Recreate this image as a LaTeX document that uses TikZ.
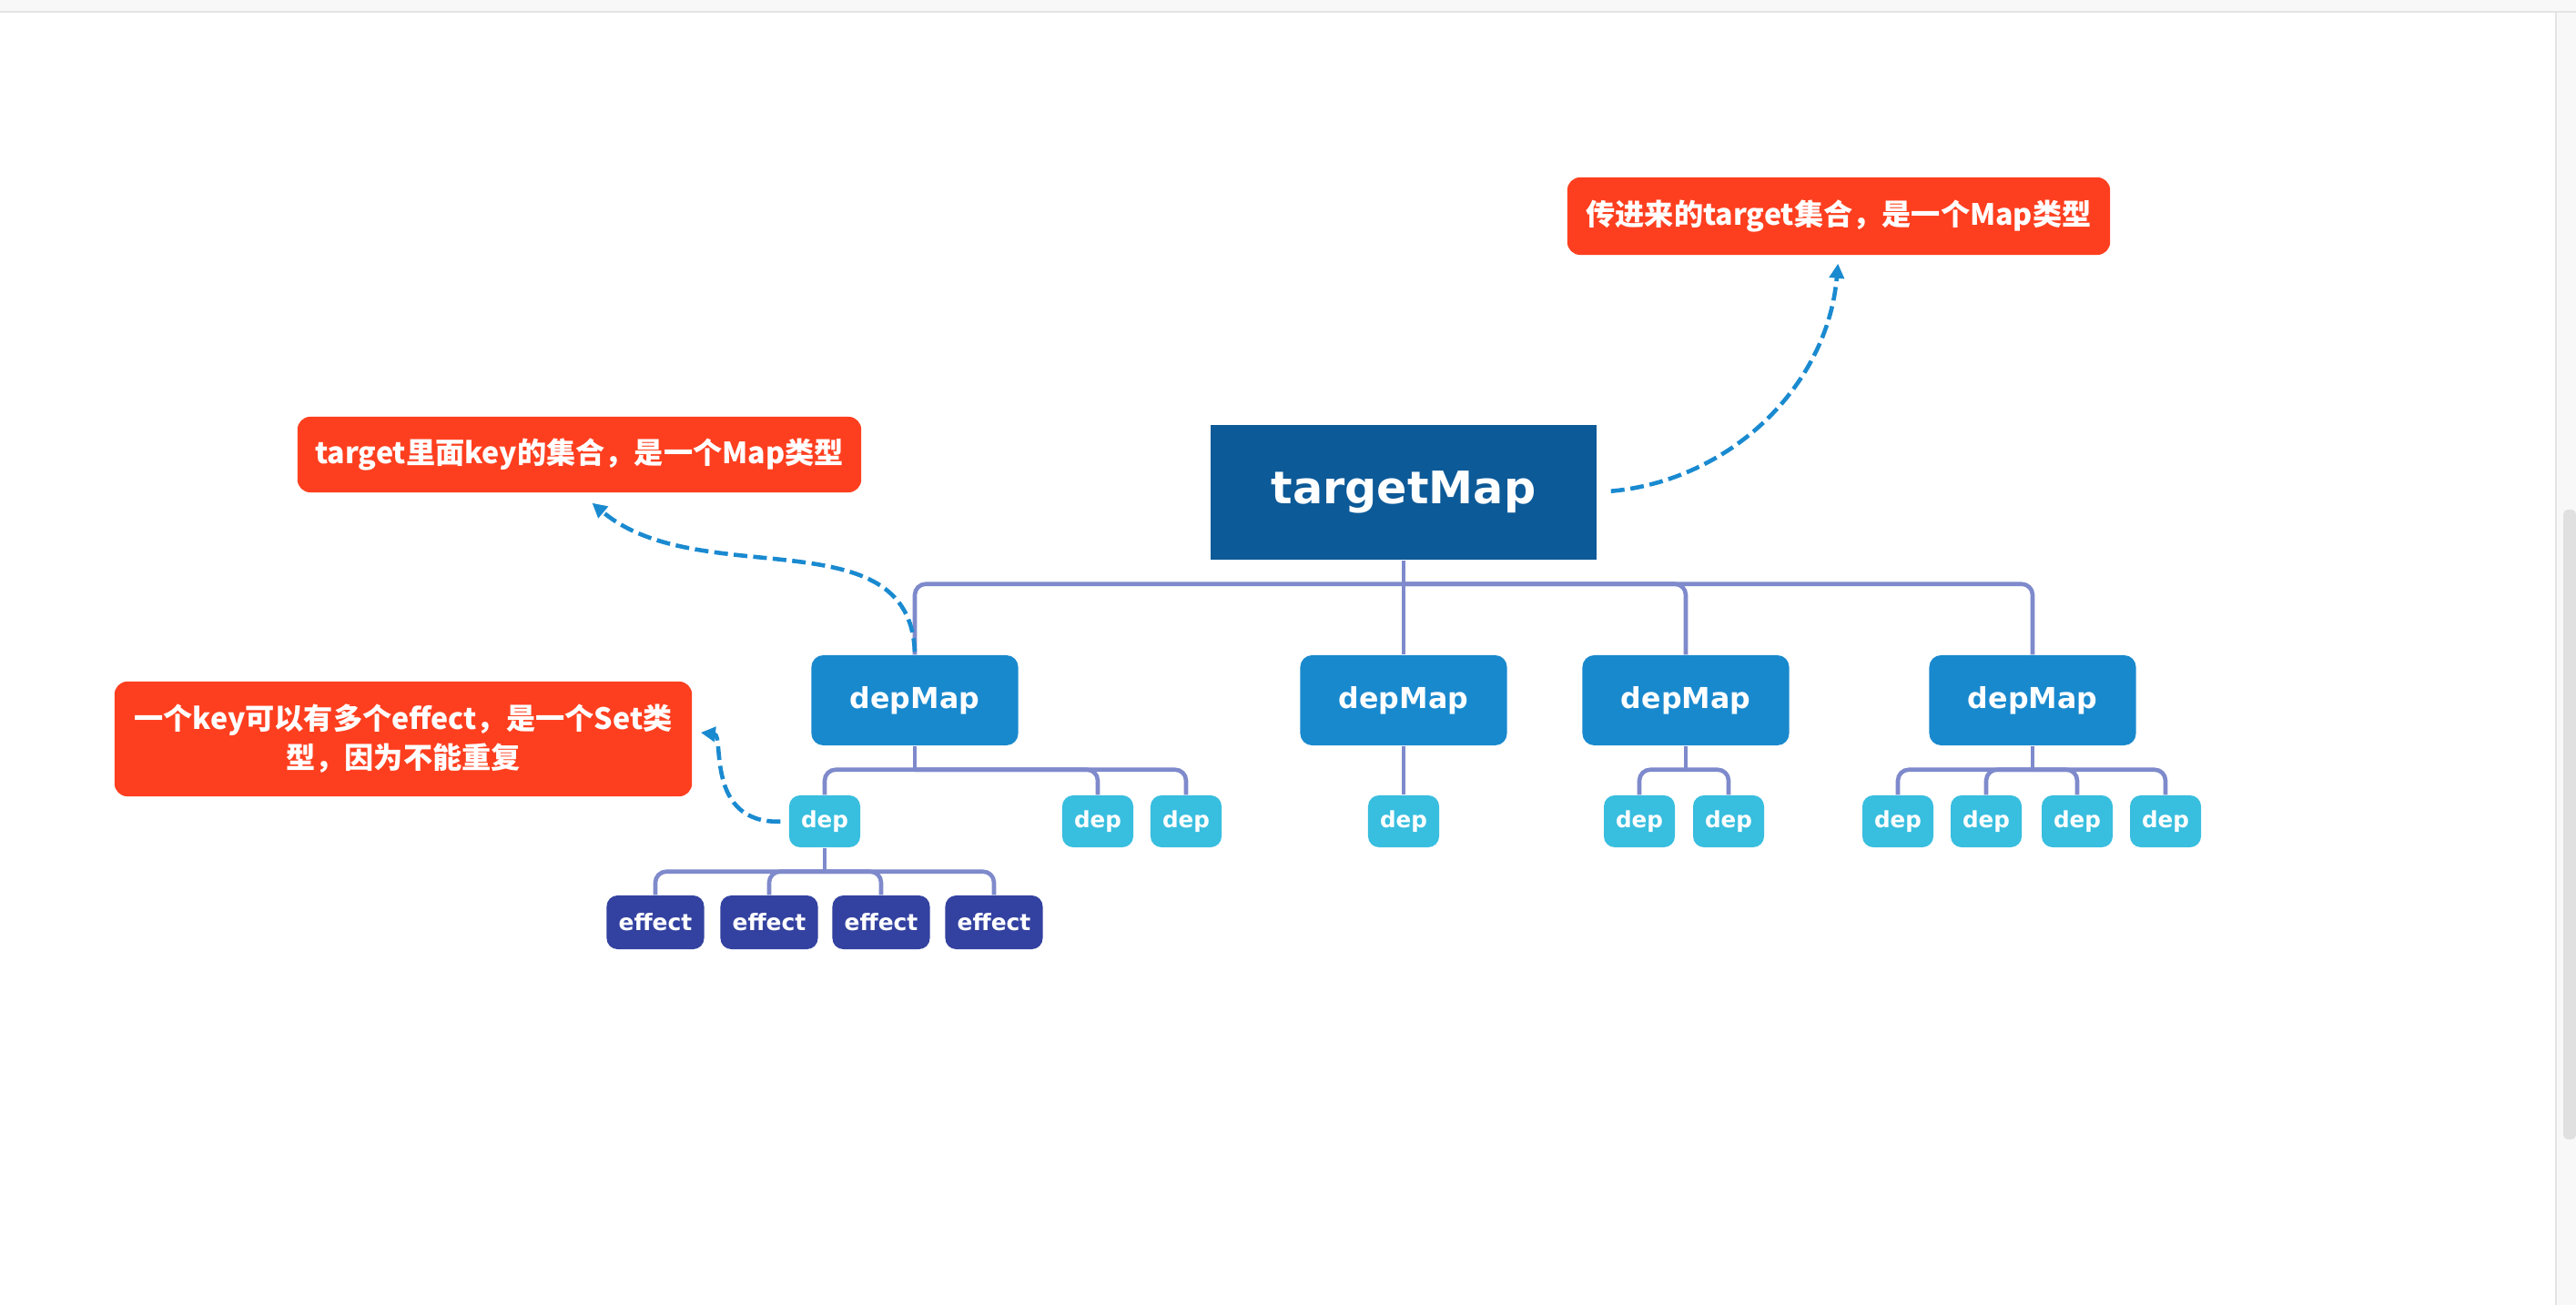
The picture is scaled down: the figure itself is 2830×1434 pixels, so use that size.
\documentclass[tikz,border=0pt]{standalone}
\usepackage{fontspec}
\setmainfont{DejaVu Sans}
\newfontfamily\cjk{Noto Sans CJK SC}
\usetikzlibrary{arrows.meta}
\definecolor{rootblue}{HTML}{0D5A98}
\definecolor{mapblue}{HTML}{1989CE}
\definecolor{depcyan}{HTML}{38BEDF}
\definecolor{effnavy}{HTML}{3342A0}
\definecolor{notered}{HTML}{FE3F1F}
\definecolor{linkpurple}{HTML}{7E8ACB}
\definecolor{hintblue}{HTML}{1A8AD0}
\definecolor{barpale}{HTML}{F8F8F8}
\definecolor{barline}{HTML}{E4E4E4}
\definecolor{thumbgrey}{HTML}{E0E0E0}

\begin{document}
\begin{tikzpicture}[
  x=0.01cm, y=-0.01cm,
  root/.style={fill=rootblue, text=white, minimum width=4.24cm, minimum height=1.48cm,
               font=\bfseries\fontsize{14}{16}\selectfont},
  mapbox/.style={fill=mapblue, text=white, rounded corners=1.3mm, minimum width=2.27cm,
                 minimum height=0.99cm, font=\bfseries\fontsize{9}{11}\selectfont},
  depbox/.style={fill=depcyan, text=white, rounded corners=1.2mm, minimum width=0.78cm,
                 minimum height=0.57cm, inner sep=0pt, font=\bfseries\fontsize{7}{8}\selectfont},
  effbox/.style={fill=effnavy, text=white, rounded corners=1.2mm, minimum width=1.07cm,
                 minimum height=0.59cm, inner sep=0pt, font=\bfseries\fontsize{7.1}{8}\selectfont},
  note/.style={fill=notered, text=white, rounded corners=1.4mm, align=center,
               inner xsep=1.5mm, font=\cjk\bfseries\fontsize{9.15}{12.2}\selectfont},
  link/.style={draw=linkpurple, line width=1.3pt, rounded corners=1.2mm},
  hint/.style={draw=hintblue, line width=1.3pt, dash pattern=on 1.5mm off 0.65mm,
               -{Triangle[length=1.6mm, width=1.6mm]}},
]
\useasboundingbox (0,0) rectangle (2830,1434);
\fill[white] (0,0) rectangle (2830,1434);

% window chrome
\fill[barpale] (0,0) rectangle (2830,12);
\draw[barline] (0,13) -- (2830,13);
\fill[barpale] (2808,14) rectangle (2830,1434);
\draw[barline] (2808,14) -- (2808,1434);
\fill[thumbgrey, rounded corners=0.5mm] (2816,560) rectangle (2830,1252);

\node[root] (tmap) at (1542,541) {targetMap};

\node[mapbox] (dm1) at (1005,769.5) {depMap};
\node[mapbox] (dm2) at (1542,769.5) {depMap};
\node[mapbox] (dm3) at (1852,769.5) {depMap};
\node[mapbox] (dm4) at (2233,769.5) {depMap};

\node[depbox] (d1)  at (906,902.5)  {dep};
\node[depbox] (d2)  at (1206,902.5) {dep};
\node[depbox] (d3)  at (1303,902.5) {dep};
\node[depbox] (d4)  at (1542,902.5) {dep};
\node[depbox] (d5)  at (1801,902.5) {dep};
\node[depbox] (d6)  at (1899,902.5) {dep};
\node[depbox] (d7)  at (2085,902.5) {dep};
\node[depbox] (d8)  at (2182,902.5) {dep};
\node[depbox] (d9)  at (2282,902.5) {dep};
\node[depbox] (d10) at (2379,902.5) {dep};

\node[effbox] (e1) at (720,1013.5)  {effect};
\node[effbox] (e2) at (845,1013.5)  {effect};
\node[effbox] (e3) at (968,1013.5)  {effect};
\node[effbox] (e4) at (1092,1013.5) {effect};

\node[note, minimum width=5.96cm, minimum height=0.85cm] (n1) at (2020,237.5)
  {传进来的target集合，是一个Map类型};
\node[note, minimum width=6.19cm, minimum height=0.83cm] (n2) at (636.5,499.5)
  {target里面key的集合，是一个Map类型};
\node[note, minimum width=6.34cm, minimum height=1.26cm] (n3) at (443,812)
  {一个key可以有多个effect，是一个Set类\\型，因为不能重复};

% tree links
\foreach \a in {tmap, dm1, dm3, dm4, d1}
  \draw[link] (\a.south) -- ++(0,26);
\foreach \a/\b in {tmap/dm1, tmap/dm3, tmap/dm4, dm1/d1, dm1/d2, dm1/d3,
                   dm3/d5, dm3/d6, dm4/d7, dm4/d8, dm4/d9, dm4/d10,
                   d1/e1, d1/e2, d1/e3, d1/e4}
  \draw[link] ([yshift=-2.6mm]\a.south) -| (\b.north);
\draw[link] ([yshift=-2.6mm]tmap.south) -- (dm2.north);
\draw[link] (dm2.south) -- (d4.north);

% notes
\draw[hint, shorten <=1.5mm, shorten >=0.9mm] (tmap.east) to[out=5, in=-95] (n1.south);
\draw[hint, shorten <=0.3mm] (dm1.north) to[out=92, in=-40] ([shift={(14,11)}]n2.south);
\draw[hint, shorten <=0.9mm] (d1.west) .. controls +(-92,2.5) and +(26,3) .. ([shift={(9,-7)}]n3.east);

\end{tikzpicture}
\end{document}
